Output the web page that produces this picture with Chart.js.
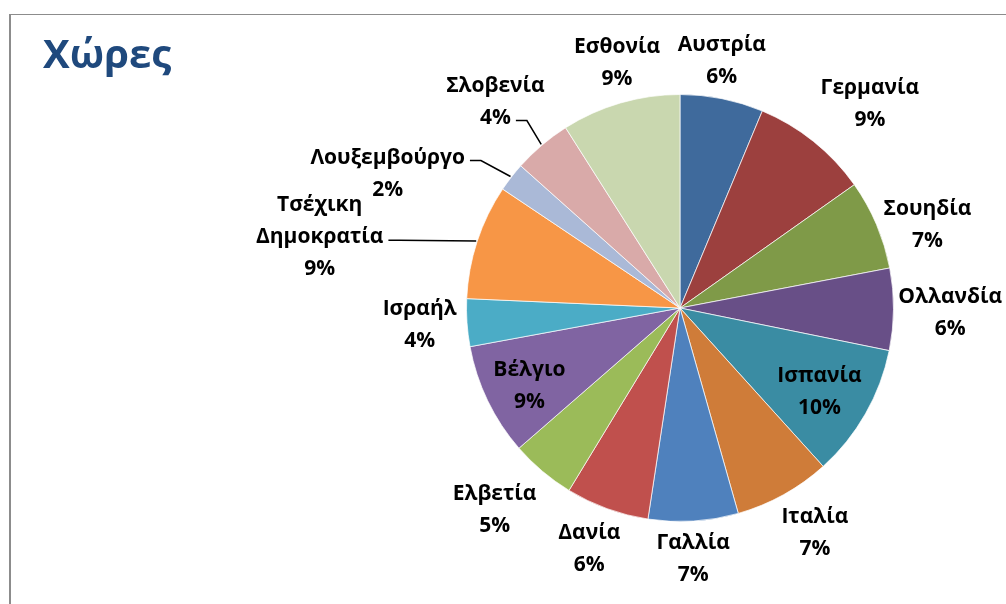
<!DOCTYPE html>
<html>
<head>
<meta charset="utf-8">
<script src="https://cdn.jsdelivr.net/npm/chart.js@4.4.1/dist/chart.umd.min.js"></script>
<style>
  html, body { margin: 0; padding: 0; background: #fff; }
  #wrap { position: relative; width: 1006px; height: 604px; overflow: hidden; }
  #frame {
    position: absolute; left: 9px; top: 14px; width: 1100px; height: 700px;
    border-left: 2px solid #8c8c8c; border-top: 1px solid #8c8c8c;
  }
  #title {
    position: absolute; left: 43px; top: 33px;
    font-family: "Open Sans", sans-serif; font-weight: bold; font-size: 40px;
    color: #1f497d; line-height: 1;
  }
  canvas { position: absolute; left: 0; top: 0; }
</style>
</head>
<body>
<div id="wrap">
  <div id="frame"></div>
  <canvas id="pieChart" width="1006" height="604"></canvas>
  <div id="title">Χώρες</div>
</div>
<script>
// Country names, clockwise from 12 o'clock
const countries = [
  "Αυστρία", "Γερμανία", "Σουηδία", "Ολλανδία", "Ισπανία",
  "Ιταλία", "Γαλλία", "Δανία", "Ελβετία", "Βέλγιο",
  "Ισραήλ", "Τσέχικη Δημοκρατία", "Λουξεμβούργο", "Σλοβενία", "Εσθονία",
];

// Share of each country
const shares = [6.3, 8.9, 6.8, 6.2, 10.1, 7.3, 6.8, 6.3, 4.9, 8.5, 3.6, 8.7, 2.2, 4.4, 9.0];

const sliceColors = [
  "#3f6a9c", "#9c403e", "#7f9a48", "#684f87", "#3a8ca3",
  "#cf7c39", "#4f81bd", "#c0504d", "#9bbb59", "#8064a2",
  "#4bacc6", "#f79646", "#aab9d7", "#d9aaa9", "#c9d7af",
];

// Label placement: [compass angle in degrees, distance in radii, leader line index or -1]
const labelLayout = [
  [9.6, 1.173, -1], [43.0, 1.304, -1], [71.5, 1.222, -1], [91.1, 1.266, -1], [121, 0.762, -1],
  [149.1, 1.23, -1], [177, 1.178, -1], [200.6, 1.208, -1], [222.6, 1.283, -1], [242.7, 0.794, -1],
  [266.3, 1.222, -1], [281.1, 1.72, 1], [294.7, 1.507, 0], [318.2, 1.297, 1], [345.6, 1.187, -1],
];

const labelFont = 'bold 21px "Open Sans", sans-serif';
const lineHeight = 32;

// Draws the name + percent next to each slice
const sliceLabels = {
  id: "sliceLabels",
  afterDraw(chart) {
    const ctx = chart.ctx;
    const meta = chart.getDatasetMeta(0);
    const total = shares.reduce((a, b) => a + b, 0);
    ctx.save();
    ctx.font = labelFont;
    ctx.fillStyle = "#000";
    ctx.textAlign = "center";
    ctx.textBaseline = "middle";
    meta.data.forEach((arc, i) => {
      const { x, y, outerRadius, startAngle, endAngle } = arc.getProps(
        ["x", "y", "outerRadius", "startAngle", "endAngle"], true);
      const [deg, dist, leader] = labelLayout[i];
      const a = (deg * Math.PI) / 180 - Math.PI / 2;
      const cx = x + Math.cos(a) * dist * outerRadius;
      const cy = y + Math.sin(a) * dist * outerRadius;
      const lines = countries[i].split(" ");
      lines.push(Math.round((shares[i] / total) * 100) + "%");
      lines.forEach((txt, j) => {
        ctx.fillText(txt, cx, cy + (j - (lines.length - 1) / 2) * lineHeight);
      });
      if (leader >= 0) {
        const txt = lines[leader];
        const ly = cy + (leader - (lines.length - 1) / 2) * lineHeight + 3;
        const sx = cx + ctx.measureText(txt).width / 2 + 5;
        const mid = (startAngle + endAngle) / 2;
        ctx.beginPath();
        ctx.strokeStyle = "#000";
        ctx.lineWidth = 1.5;
        ctx.moveTo(sx, ly);
        ctx.lineTo(sx + 11, ly);
        ctx.lineTo(x + Math.cos(mid) * (outerRadius + 1), y + Math.sin(mid) * (outerRadius + 1));
        ctx.stroke();
      }
    });
    ctx.restore();
  },
};

const ctx = document.getElementById("pieChart").getContext("2d");
new Chart(ctx, {
  type: "pie",
  data: {
    labels: countries,
    datasets: [
      {
        data: shares,
        backgroundColor: sliceColors,
        borderColor: "rgba(255,255,255,0.7)",
        borderWidth: 1,
      },
    ],
  },
  options: {
    responsive: false,
    animation: false,
    layout: { padding: { left: 466, right: 112, top: 94, bottom: 82 } },
    plugins: {
      legend: { display: false },
      tooltip: { enabled: false },
    },
  },
  plugins: [sliceLabels],
});
</script>
</body>
</html>
